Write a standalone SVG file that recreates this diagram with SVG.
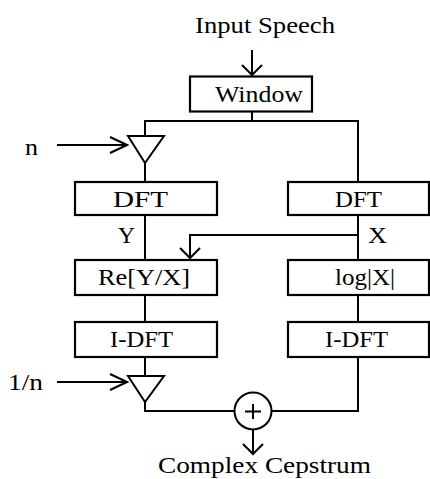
<svg xmlns="http://www.w3.org/2000/svg" width="430" height="479" viewBox="0 0 430 479">
<defs>
<style>
.box{fill:#fff;stroke:#000;stroke-width:2.2}
.ln{fill:none;stroke:#000;stroke-width:2}
.t{font-family:"Liberation Serif","Times New Roman",serif;font-size:24px;fill:#000}
</style>
<marker id="av" viewBox="-11 -11 13 22" markerWidth="13" markerHeight="22" refX="0" refY="0" orient="auto" markerUnits="userSpaceOnUse">
<path d="M-10,-10 L0,0 L-10,10" fill="none" stroke="#000" stroke-width="2"/>
</marker>
<marker id="ah" viewBox="-18 -10 20 20" markerWidth="20" markerHeight="20" refX="0" refY="0" orient="auto" markerUnits="userSpaceOnUse">
<path d="M-17,-8 L0,0 L-17,8" fill="none" stroke="#000" stroke-width="2"/>
</marker>
</defs>
<rect width="430" height="479" fill="#fff"/>
<g id="connectors">
<line class="ln" x1="252" y1="50" x2="252" y2="75" marker-end="url(#av)"/>
<polyline class="ln" points="252,111 252,121"/>
<polyline class="ln" points="145,136 145,121 358,121 358,182"/>
<line class="ln" x1="145" y1="163" x2="145" y2="182"/>
<line class="ln" x1="57" y1="145" x2="127" y2="145" marker-end="url(#ah)"/>
<line class="ln" x1="145" y1="215" x2="145" y2="260"/>
<line class="ln" x1="358" y1="215" x2="358" y2="260"/>
<polyline class="ln" points="358,235 190,235 190,258" marker-end="url(#av)"/>
<line class="ln" x1="145" y1="295" x2="145" y2="322"/>
<line class="ln" x1="358" y1="295" x2="358" y2="322"/>
<line class="ln" x1="145" y1="357" x2="145" y2="376"/>
<line class="ln" x1="57" y1="382" x2="127" y2="382" marker-end="url(#ah)"/>
<polyline class="ln" points="145,402 145,411 234.5,411"/>
<polyline class="ln" points="271.5,411 358,411 358,357"/>
<line class="ln" x1="253" y1="429.5" x2="253" y2="454" marker-end="url(#av)"/>
</g>
<g id="label-input"><text class="t" x="195" y="33" textLength="140" lengthAdjust="spacingAndGlyphs">Input Speech</text></g>
<g id="window"><rect class="box" x="190" y="76.5" width="122" height="35"/><text class="t" x="215" y="102" textLength="88" lengthAdjust="spacingAndGlyphs">Window</text></g>
<g id="label-n"><text class="t" x="25" y="155" textLength="13" lengthAdjust="spacingAndGlyphs">n</text></g>
<g id="gain-n"><polygon class="ln" points="128,136 164,136 145,163"/></g>
<g id="dft-left"><rect class="box" x="75" y="182" width="142" height="33"/><text class="t" x="113" y="207" textLength="55" lengthAdjust="spacingAndGlyphs">DFT</text></g>
<g id="dft-right"><rect class="box" x="288" y="182" width="141" height="33"/><text class="t" x="335" y="207" textLength="47" lengthAdjust="spacingAndGlyphs">DFT</text></g>
<g id="label-Y"><text class="t" x="118" y="243" textLength="17" lengthAdjust="spacingAndGlyphs">Y</text></g>
<g id="label-X"><text class="t" x="368" y="243" textLength="19" lengthAdjust="spacingAndGlyphs">X</text></g>
<g id="re"><rect class="box" x="75" y="260" width="142" height="35"/><text class="t" x="98" y="285" textLength="92" lengthAdjust="spacingAndGlyphs">Re[Y/X]</text></g>
<g id="log"><rect class="box" x="288" y="260" width="141" height="35"/><text class="t" x="335" y="285" textLength="60" lengthAdjust="spacingAndGlyphs">log|X|</text></g>
<g id="idft-left"><rect class="box" x="75" y="322" width="142" height="35"/><text class="t" x="110" y="347" textLength="63" lengthAdjust="spacingAndGlyphs">I-DFT</text></g>
<g id="idft-right"><rect class="box" x="288" y="322" width="141" height="35"/><text class="t" x="325" y="347" textLength="63" lengthAdjust="spacingAndGlyphs">I-DFT</text></g>
<g id="label-1n"><text class="t" x="8" y="390" textLength="35" lengthAdjust="spacingAndGlyphs">1/n</text></g>
<g id="gain-1n"><polygon class="ln" points="128,376 164,376 145,402"/></g>
<g id="sum"><circle class="ln" cx="253" cy="411" r="18.5"/><path class="ln" d="M245,411.5 H261 M253,404 V419"/></g>
<g id="label-output"><text class="t" x="158" y="473" textLength="213" lengthAdjust="spacingAndGlyphs">Complex Cepstrum</text></g>
</svg>
